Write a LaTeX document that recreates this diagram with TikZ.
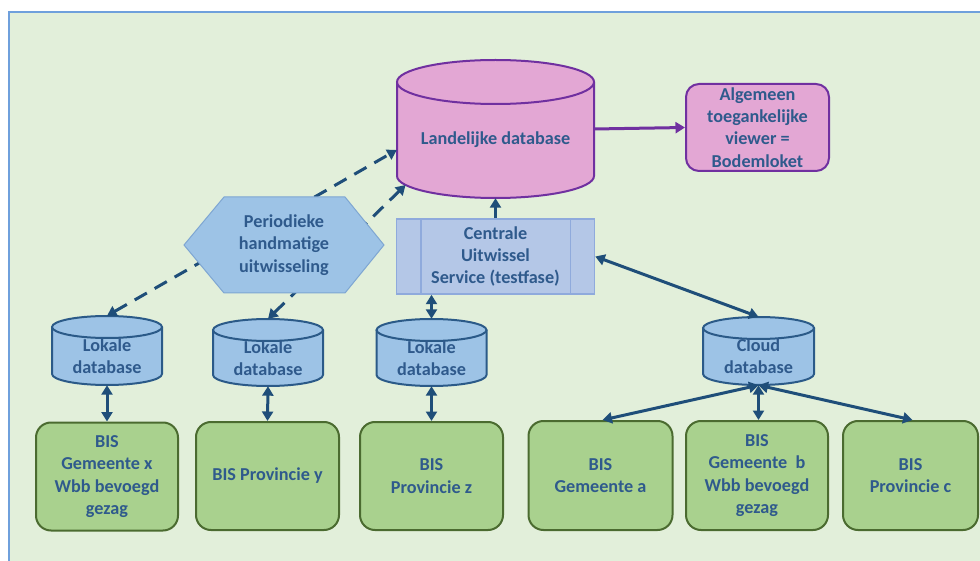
\documentclass[tikz,border=0pt]{standalone}
\usepackage{fontspec}
\setmainfont{Carlito}
\usetikzlibrary{arrows.meta,calc}
\definecolor{panel}{HTML}{E2EFDA}
\definecolor{panelline}{HTML}{6FA0DC}
\definecolor{txt}{HTML}{2F5A8C}
\definecolor{arr}{HTML}{1F4E79}
\definecolor{pinkfill}{HTML}{E3A7D4}
\definecolor{purp}{HTML}{7030A0}
\definecolor{bluefill}{HTML}{9DC3E6}
\definecolor{blueline}{HTML}{2B5A88}
\definecolor{cusfill}{HTML}{B4C7E7}
\definecolor{cusline}{HTML}{8FAADC}
\definecolor{hexline}{HTML}{7EA6D2}
\definecolor{greenfill}{HTML}{A9D18E}
\definecolor{greenline}{HTML}{4B6B30}
\newcommand\drawcyl[7]{%
  \filldraw[fill=#6,draw=#7,line width=2pt,line join=round]
    (#1-#4,#2) -- (#1-#4,#3) arc[start angle=180,end angle=360,x radius=#4,y radius=#5]
    -- (#1+#4,#2) -- cycle;
  \filldraw[fill=#6,draw=#7,line width=2pt] (#1,#2) ellipse[x radius=#4,y radius=#5];
}
\tikzset{
  lbl/.style={text=txt,font=\fontsize{18.2}{22.3}\selectfont\bfseries,align=center,inner sep=0pt},
  cylnode/.style={lbl,draw=none,fill=none,rectangle},
  greenbox/.style={lbl,draw=greenline,fill=greenfill,line width=2pt,rounded corners=15pt,
    minimum height=108pt},
  viewbox/.style={lbl,draw=purp,fill=pinkfill,line width=2pt,rounded corners=13pt,
    minimum width=143pt,minimum height=87pt},
  cusbox/.style={lbl,draw=cusline,fill=cusfill,line width=1.5pt,
    minimum width=198pt,minimum height=75pt},
  conn/.style={draw=arr,line width=3pt,{Triangle[length=9.5pt,width=11pt]}-{Triangle[length=9.5pt,width=11pt]}},
  oneway/.style={draw=arr,line width=3pt,-{Triangle[length=9.5pt,width=11pt]}},
  dconn/.style={conn,dash pattern=on 14pt off 9pt},
  purpconn/.style={draw=purp,line width=3pt,-{Triangle[length=9.5pt,width=11pt]}},
}
\begin{document}
\begin{tikzpicture}[x=1pt,y=1pt]
\useasboundingbox (0,0) rectangle (980,-561);
\fill[white] (0,0) rectangle (980,-561);
% panel
\fill[panel] (9,-12.5) rectangle (982,-563);
\draw[panelline,line width=2pt] (9,-563) -- (9,-12.5) -- (982,-12.5);

% cylinders
\drawcyl{495.5}{-82}{-176}{98.5}{22}{pinkfill}{purp}
\node[cylnode,minimum width=197pt,minimum height=138pt] (land) at (495.5,-129) {};
\node[lbl] (landtxt) at (495.5,-140) {Landelijke database};

\drawcyl{107}{-327}{-374}{55}{11}{bluefill}{blueline}
\node[cylnode,minimum width=110pt,minimum height=69pt] (lok1) at (107,-350.5) {};
\node[lbl] (lok1txt) at (107,-356.5) {Lokale\\database};

\drawcyl{268}{-330}{-375}{55}{11}{bluefill}{blueline}
\node[cylnode,minimum width=110pt,minimum height=67pt] (lok2) at (268,-352.5) {};
\node[lbl] (lok2txt) at (268,-358) {Lokale\\database};

\drawcyl{431.5}{-330}{-375}{55}{11}{bluefill}{blueline}
\node[cylnode,minimum width=110pt,minimum height=67pt] (lok3) at (431.5,-352.5) {};
\node[lbl] (lok3txt) at (431.5,-358) {Lokale\\database};

\drawcyl{758.5}{-328}{-374}{55.5}{11}{bluefill}{blueline}
\node[cylnode,minimum width=111pt,minimum height=68pt] (cloud) at (758.5,-351) {};
\node[lbl] (cloudtxt) at (758.5,-356.5) {Cloud\\database};

% viewer
\node[viewbox] (view) at (757.5,-127.5) {Algemeen\\toegankelijke\\viewer =\\Bodemloket};

% central service
\node[cusbox] (cus) at (495.5,-256.5) {Centrale\\Uitwissel\\Service (testfase)};
\draw[cusline,line width=1.5pt] ([xshift=25pt]cus.north west) -- ([xshift=25pt]cus.south west);
\draw[cusline,line width=1.5pt] ([xshift=-25pt]cus.north east) -- ([xshift=-25pt]cus.south east);

% green boxes
\node[greenbox,minimum width=142pt] (bis1) at (107,-476.5) {BIS\\Gemeente x\\Wbb bevoegd\\gezag};
\node[greenbox,minimum width=143pt] (bis2) at (267.5,-476) {BIS Provincie y};
\node[greenbox,minimum width=143pt] (bis3) at (431.5,-476) {BIS\\Provincie z};
\node[greenbox,minimum width=144pt,minimum height=109pt] (bisa) at (600.5,-475.5) {BIS\\Gemeente a};
\node[greenbox,minimum width=142pt,minimum height=109pt] (bisb) at (757,-475.5) {BIS\\Gemeente~~b\\Wbb bevoegd\\gezag};
\node[greenbox,minimum width=135pt,minimum height=109pt] (bisc) at (910.5,-475.5) {BIS\\Provincie c};

% dashed connectors (behind the hexagon)
\draw[dconn] (lok1.north) -- (land.192);
\draw[dconn] (lok2.north) -- ($(land.center)+(-90,-56)$);

% hexagon
\filldraw[fill=bluefill,draw=hexline,line width=1pt]
  (184,-245) -- (224,-197) -- (345,-197) -- (384,-245) -- (345,-293) -- (224,-293) -- cycle;
\node[lbl] (hex) at (284,-245) {Periodieke\\handmatige\\uitwisseling};

% solid connectors
\draw[purpconn] (land.east) -- (view.west);
\draw[oneway] (cus.north) -- (land.south);
\draw[conn] (lok1.south) -- (bis1.north);
\draw[conn] (lok2.south) -- (bis2.north);
\draw[conn] (lok3.south) -- (bis3.north);
\draw[conn] (cus.south -| lok3.north) -- (lok3.north);
\draw[conn] (cus.east) -- (cloud.north);
\draw[conn] (cloud.south) -- ([xshift=2pt]bisa.north);
\draw[conn] (cloud.south) -- (bisb.north -| cloud.south);
\draw[conn] (cloud.south) -- ([xshift=2pt]bisc.north);
\end{tikzpicture}
\end{document}
